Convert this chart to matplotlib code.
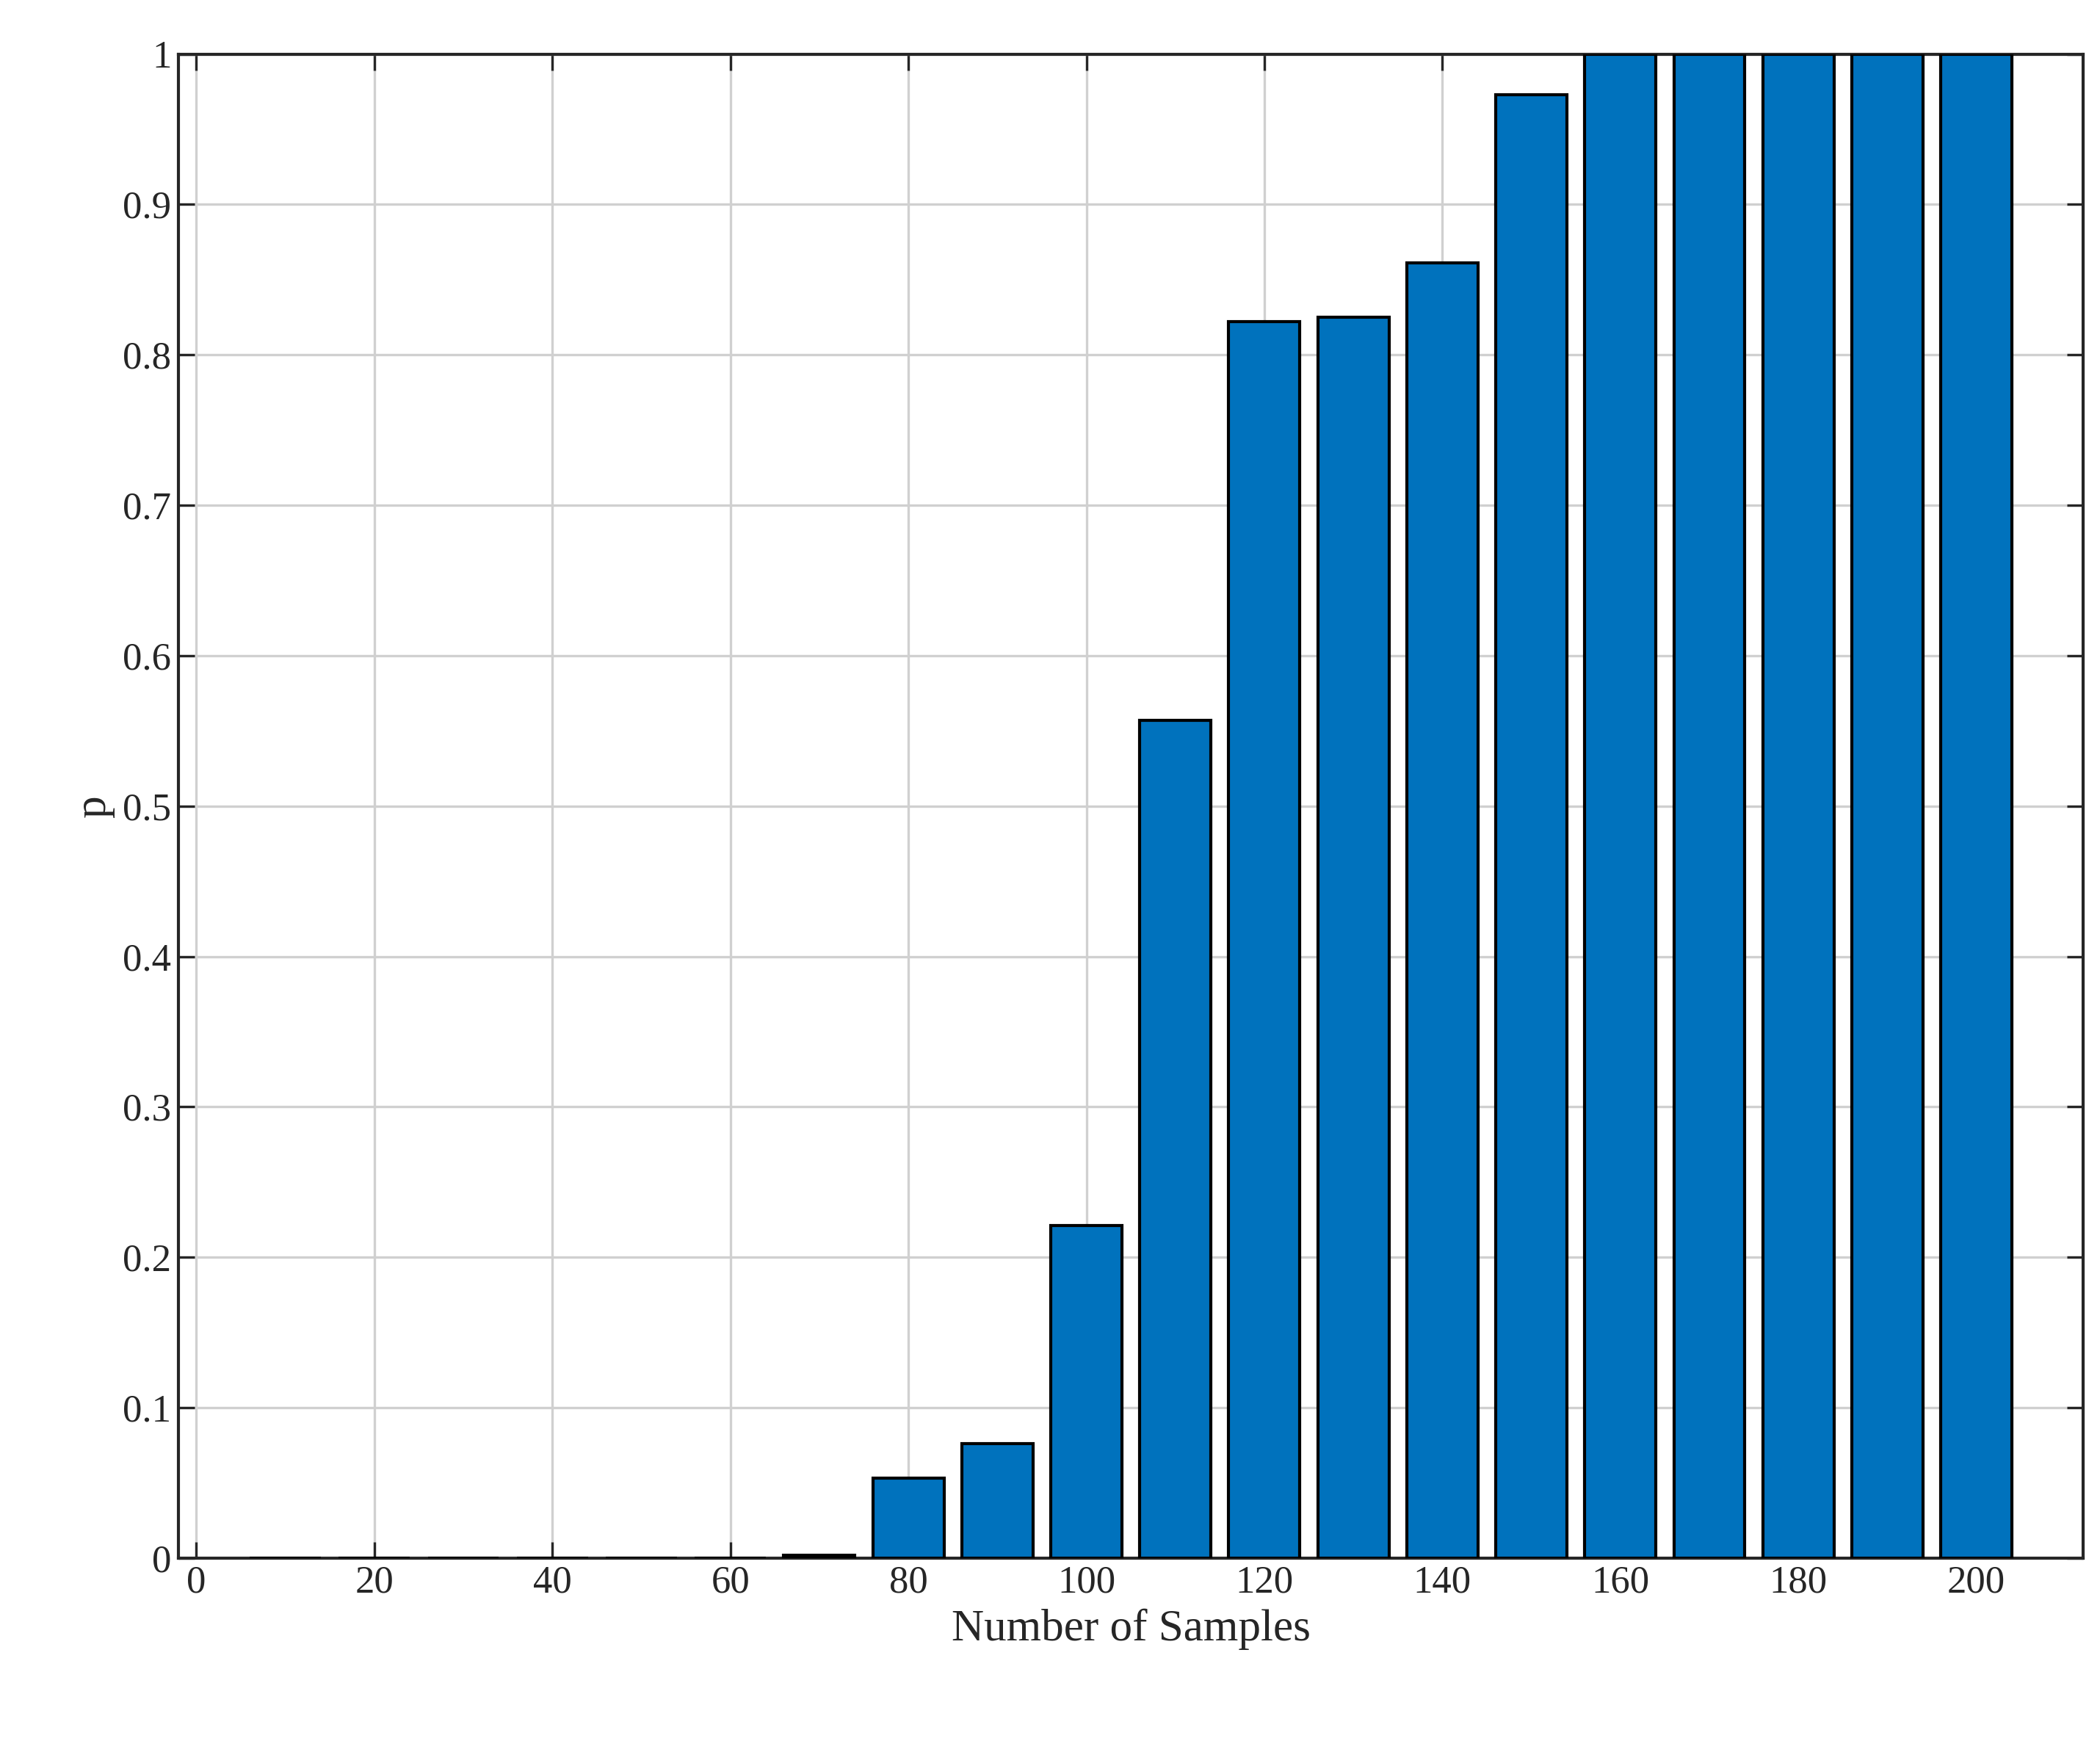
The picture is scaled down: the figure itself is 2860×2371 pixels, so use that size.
import matplotlib
matplotlib.use("Agg")
import matplotlib.pyplot as plt

samples = [10,20,30,40,50,60,70,80,90,100,110,120,130,140,150,160,170,180,190,200]
p = [0,0,0,0,0,0,0.002,0.053,0.076,0.221,0.557,0.822,0.825,0.861,0.973,1,1,1,1,1]

plt.rcParams['font.family'] = ['Liberation Serif']
fig = plt.figure(figsize=(14.3, 11.855), dpi=200)
ax = fig.add_axes([0.085, 0.105, 0.907, 0.864])
ax.bar(samples, p, width=8, color='#0072BD', edgecolor='black', linewidth=1.5, zorder=3)
ax.set_xlim(-2, 212)
ax.set_ylim(0, 1)
ax.set_xticks(range(0, 201, 20))
ax.set_yticks([i/10 for i in range(11)])
ax.set_yticklabels(['0'] + [f'{i/10:g}' for i in range(1, 10)] + ['1'])
ax.grid(True, color='#d0d0d0', linewidth=1.2, zorder=0)
ax.tick_params(direction='in', top=True, right=True, labelsize=19, length=8, width=1.2, colors='#262626')
for s in ax.spines.values():
    s.set_linewidth(1.5); s.set_color('#262626')
ax.set_xlabel('Number of Samples', fontsize=22, color='#262626')
ax.set_ylabel('p', fontsize=22, color='#262626')
fig.savefig('out.png', dpi=200)
